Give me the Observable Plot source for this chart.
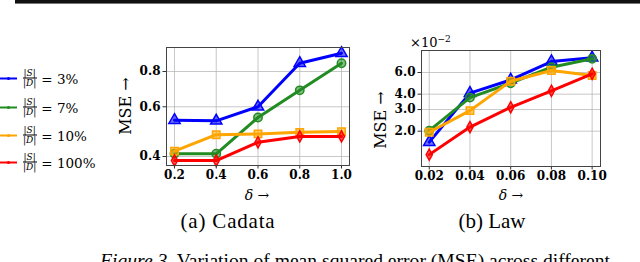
<!DOCTYPE html>
<html><head><meta charset="utf-8">
<script src="https://cdn.jsdelivr.net/npm/d3@7"></script>
<script src="https://cdn.jsdelivr.net/npm/@observablehq/plot@0.6"></script>
<style>
body{margin:0;width:640px;height:262px;overflow:hidden;background:#fff;position:relative;font-family:"DejaVu Serif",serif;color:#000}
.abs{position:absolute}
#rule{position:absolute;left:15px;top:0;width:625px;height:3px;background:#111;border-bottom:1px solid #777}
.plotbox{position:absolute;left:0;top:0;width:640px;height:262px}
.plotbox svg{position:absolute;left:0;top:0;overflow:visible}
.ylab{position:absolute;font-size:16px;white-space:nowrap;transform:translate(-50%,-50%) rotate(-90deg)}
.xlab{position:absolute;font-size:14px;white-space:nowrap;transform:translate(-50%,-50%)}
.cap{position:absolute;font-family:"Liberation Serif",serif;font-size:21px;white-space:nowrap;transform:translate(-50%,-50%)}
.leg{position:absolute;left:0;display:flex;align-items:center;font-size:13.5px;white-space:nowrap;transform:translateY(-50%)}
.frac{display:inline-flex;flex-direction:column;align-items:center;font-size:9px;line-height:9px;margin:0 4px 0 5px}
.frac .n{border-bottom:0.8px solid #000;padding:0 1px}
.frac .d{padding:0 1px}
</style></head><body>
<div id="rule"></div>
<div id="p1" class="plotbox"></div>
<div id="p2" class="plotbox"></div>
<div id="legend"></div>
<div class="ylab" style="left:125px;top:106px">MSE →</div>
<div class="ylab" style="left:380px;top:120px">MSE →</div>
<div class="xlab" style="left:257px;top:195px"><i>δ</i> →</div>
<div class="xlab" style="left:511px;top:195px"><i>δ</i> →</div>
<div class="abs" style="left:410px;top:34px;font-size:13px">×10<sup style="font-size:9px">−2</sup></div>
<div class="cap" style="left:228px;top:221px;letter-spacing:0.8px">(a) Cadata</div>
<div class="cap" style="left:492px;top:221px">(b) Law</div>
<div class="abs" style="left:100px;top:250px;font-family:'Liberation Serif',serif;font-size:19.6px;white-space:nowrap"><i>Figure 3.</i> Variation of mean squared error (MSE) across different</div>
<script>
const seriesLabels = ["3%", "7%", "10%", "100%"];
const seriesColors = ["#0000ff", "#228b22", "#ffa500", "#ff0000"];
const deltaCadata = [0.2, 0.4, 0.6, 0.8, 1.0];
const cadata3 = [0.538, 0.535, 0.600, 0.856, 0.929];
const cadata7 = [0.409, 0.409, 0.550, 0.686, 0.856];
const cadata10 = [0.418, 0.478, 0.481, 0.487, 0.490];
const cadata100 = [0.387, 0.387, 0.449, 0.471, 0.471];
const deltaLaw = [0.02, 0.04, 0.06, 0.08, 0.10];
const law3 = [0.0163, 0.0408, 0.0523, 0.0737, 0.0790];
const law7 = [0.0202, 0.0375, 0.0491, 0.0663, 0.0775];
const law10 = [0.0196, 0.0294, 0.0510, 0.0623, 0.0567];
const law100 = [0.0129, 0.0216, 0.0313, 0.0426, 0.0586];
const cadataYTicks = [0.4, 0.6, 0.8];
const lawYTicks = [0.02, 0.03, 0.04, 0.06];

const thinDiamond = {draw(ctx, size) {
  const h = Math.sqrt(size) * 0.75, w = h * 0.55;
  ctx.moveTo(0, -h); ctx.lineTo(w, 0); ctx.lineTo(0, h); ctx.lineTo(-w, 0); ctx.closePath();
}};
const symbols = ["triangle", "circle", "square", thinDiamond];

function rows(xs, ys) { return xs.map((x, i) => ({x, y: ys[i]})); }

function makePlot(xs, seriesY, opts) {
  const W = 640, H = 262;
  const fw = W - opts.m[0] - opts.m[1], fh = H - opts.m[2] - opts.m[3];
  const marks = [
    Plot.ruleX(opts.xTicks, {x: d => d, stroke: "#b0b0b0", strokeOpacity: 0.7}),
    Plot.ruleY(opts.yTicks, {y: d => d, stroke: "#b0b0b0", strokeOpacity: 0.7}),
  ];
  seriesY.forEach((ys, k) => {
    const data = rows(xs, ys);
    marks.push(Plot.line(data, {x: "x", y: "y", stroke: seriesColors[k], strokeWidth: 3}));
    marks.push(Plot.dot(data, {x: "x", y: "y", symbol: symbols[k], r: 4.2, fill: seriesColors[k], fillOpacity: 0.55, stroke: seriesColors[k], strokeWidth: 1.5}));
  });
  marks.push(Plot.tickY(opts.yTicks, {y: d => d, insetLeft: -3.5, insetRight: fw, stroke: "#333"}));
  marks.push(Plot.tickX(opts.xTicks, {x: d => d, insetTop: fh, insetBottom: -3.5, stroke: "#333"}));
  marks.push(Plot.text(opts.yTicks, {y: d => d, text: opts.yFormat, frameAnchor: "left", textAnchor: "end", dx: -6}));
  marks.push(Plot.text(opts.xTicks, {x: d => d, text: opts.xFormat, frameAnchor: "bottom", lineAnchor: "top", dy: 5}));
  marks.push(Plot.frame({stroke: "#444", strokeWidth: 1}));
  return Plot.plot({
    width: W, height: H,
    marginLeft: opts.m[0], marginRight: opts.m[1], marginTop: opts.m[2], marginBottom: opts.m[3],
    x: {domain: opts.xDomain, axis: null},
    y: {type: "log", domain: opts.yDomain, axis: null},
    style: {background: "transparent", fontFamily: "DejaVu Serif", fontWeight: "bold", fontSize: "12px", color: "#000"},
    marks
  });
}

document.getElementById("p1").append(makePlot(deltaCadata, [cadata3, cadata7, cadata10, cadata100], {
  m: [166, 291, 47, 97], xDomain: [0.1617, 1.0383], yDomain: [0.3717, 0.973],
  xTicks: deltaCadata, yTicks: cadataYTicks, xFormat: d3.format(".1f"), yFormat: d3.format(".1f")
}));
document.getElementById("p2").append(makePlot(deltaLaw, [law3, law7, law10, law100], {
  m: [421, 40, 50, 96], xDomain: [0.0162, 0.1041], yDomain: [0.01033, 0.09058],
  xTicks: deltaLaw, yTicks: lawYTicks, xFormat: d3.format(".2f"), yFormat: d => (d * 100).toFixed(1)
}));

const legYs = [78, 107, 135, 162];
const legend = document.getElementById("legend");
seriesLabels.forEach((lab, k) => {
  const div = document.createElement("div");
  div.className = "leg";
  div.style.top = legYs[k] + "px";
  div.innerHTML = `<svg width="17" height="8" style="overflow:visible"><line x1="0" y1="4" x2="17" y2="4" stroke="${seriesColors[k]}" stroke-width="2"/><circle cx="8.5" cy="4" r="1.6" fill="${seriesColors[k]}"/></svg>` +
    `<span class="frac"><span class="n">|<i>S</i>|</span><span class="d">|<i>D</i>|</span></span><span>= ${lab}</span>`;
  legend.append(div);
});
</script>
</body></html>
